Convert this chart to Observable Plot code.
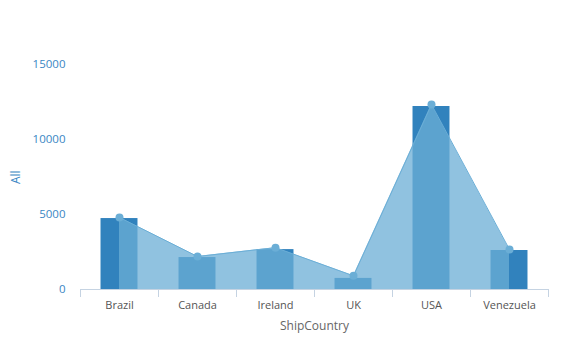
<!DOCTYPE html>
<html>
<head>
<meta charset="utf-8">
<script src="https://cdn.jsdelivr.net/npm/d3@7"></script>
<script src="https://cdn.jsdelivr.net/npm/@observablehq/plot@0.6"></script>
<style>
  html, body { margin: 0; padding: 0; background: #fff; }
  svg { display: block; }
</style>
</head>
<body>
<div id="chart"></div>
<script>
const countries = ["Brazil", "Canada", "Ireland", "UK", "USA", "Venezuela"];
const barValues = [4730, 2130, 2660, 740, 12200, 2600];
const areaValues = [4800, 2200, 2790, 910, 12330, 2670];
const yTicks = [0, 5000, 10000, 15000];
const xTitle = "ShipCountry";
const yTitle = "All";

const rows = countries.map((c, i) => ({i, country: c, bar: barValues[i], area: areaValues[i]}));
const half = 0.237;
const font = "'Open Sans', sans-serif";

const chart = Plot.plot({
  width: 574,
  height: 345,
  marginLeft: 80,
  marginRight: 26,
  marginTop: 64,
  marginBottom: 56,
  style: {fontFamily: font, background: "#fff"},
  x: {domain: [-0.5, countries.length - 0.5]},
  y: {domain: [0, 15000]},
  marks: [
    Plot.rectY(rows, {x1: d => d.i - half, x2: d => d.i + half, y: "bar", fill: "#3182bd"}),
    Plot.areaY(rows, {x: "i", y: "area", fill: "#6baed6", fillOpacity: 0.75}),
    Plot.lineY(rows, {x: "i", y: "area", stroke: "#6baed6", strokeWidth: 1}),
    Plot.dot(rows, {x: "i", y: "area", r: 4, fill: "#6baed6"}),
    Plot.ruleY([0], {stroke: "#c5d3e2"}),
    Plot.axisX(d3.range(countries.length + 1).map(i => i - 0.5), {tickSize: 8, tickFormat: () => "", stroke: "#c5d3e2", label: null}),
    Plot.axisX(d3.range(countries.length), {tickSize: 0, tickPadding: 12, tickFormat: i => countries[i], fill: "#555", fontSize: 11, label: null}),
    Plot.axisY(yTicks, {tickSize: 0, tickPadding: 15, tickFormat: d => String(d), fill: "#3a86c4", fontSize: 11.5, label: null}),
    Plot.text([yTitle], {frameAnchor: "left", dx: -64, dy: 7, rotate: -90, fill: "#3a86c4", fontSize: 12}),
    Plot.text([xTitle], {frameAnchor: "bottom", dy: 40, fill: "#666", fontSize: 12})
  ]
});
document.getElementById("chart").appendChild(chart);
</script>
</body>
</html>
